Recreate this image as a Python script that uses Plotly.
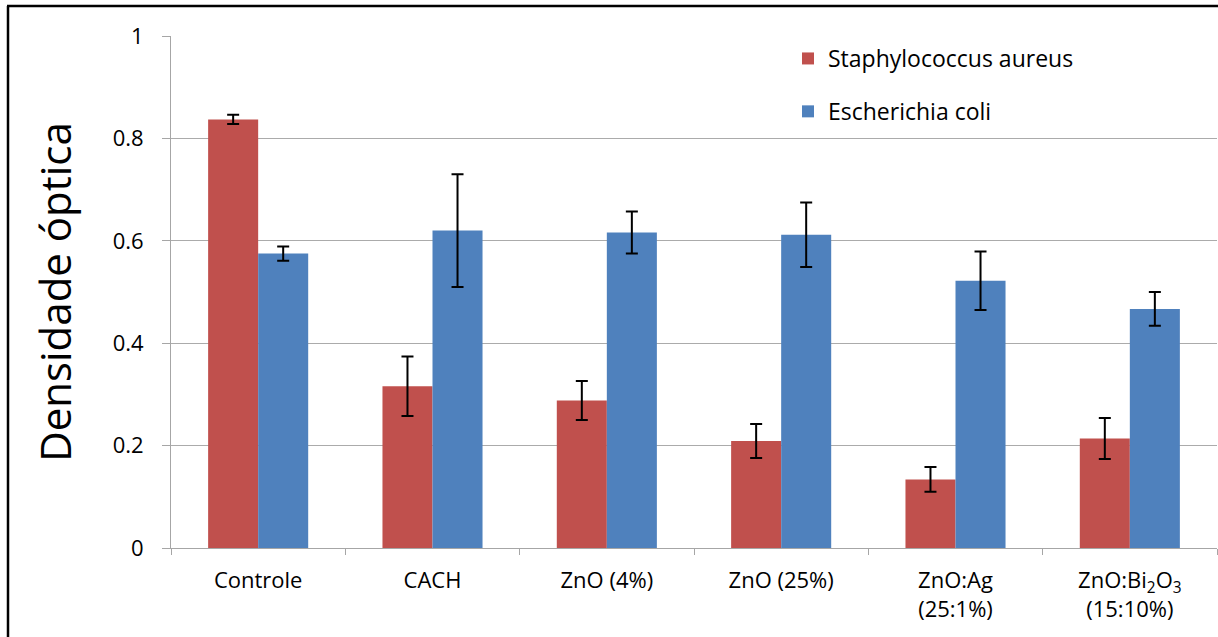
import plotly.graph_objects as go

categories = ["Controle", "CACH", "ZnO (4%)", "ZnO (25%)",
              "ZnO:Ag<br>(25:1%)", "ZnO:Bi<sub>2</sub>O<sub>3</sub><br>(15:10%)"]
staph = [0.837, 0.316, 0.288, 0.209, 0.134, 0.214]
staph_err = [0.009, 0.058, 0.038, 0.033, 0.024, 0.040]
ecoli = [0.575, 0.620, 0.616, 0.612, 0.522, 0.467]
ecoli_err = [0.014, 0.110, 0.041, 0.063, 0.057, 0.033]
y_ticks = [0, 0.2, 0.4, 0.6, 0.8, 1]

FONT = "Open Sans"
W, H = 1218, 637
L, R, T, B = 171, 1, 36, 89

fig = go.Figure()
fig.add_trace(go.Bar(
    x=categories, y=staph, name="Staphylococcus aureus",
    marker=dict(color="#C0504D", line=dict(width=0)),
    error_y=dict(type="data", array=staph_err, color="black", thickness=2, width=6),
    legendgroup="a",
))
fig.add_trace(go.Bar(
    x=categories, y=ecoli, name="Escherichia coli",
    marker=dict(color="#4F81BD", line=dict(width=0)),
    error_y=dict(type="data", array=ecoli_err, color="black", thickness=2, width=6),
    legendgroup="b",
))

pw = W - L - R
ph = H - T - B
def px_x(p):
    return (p - L) / pw
def px_y(p):
    return (H - B - p) / ph

fig.update_layout(
    width=W, height=H,
    margin=dict(l=L, r=R, t=T, b=B, pad=0),
    paper_bgcolor="white", plot_bgcolor="white",
    barmode="group", bargap=0.426, bargroupgap=0,
    font=dict(family=FONT, size=22, color="#000000"),
    showlegend=True,
    legend=dict(
        x=px_x(788), y=px_y(37), xanchor="left", yanchor="top",
        bgcolor="rgba(0,0,0,0)", font=dict(family=FONT, size=23),
        tracegroupgap=20, itemwidth=30,
    ),
    xaxis=dict(
        type="category", showline=True, linecolor="#A6A6A6", linewidth=1,
        ticks="outside", tickson="boundaries", ticklen=6, tickcolor="#A6A6A6",
        tickfont=dict(family=FONT, size=22), ticklabelstandoff=13,
        showgrid=False,
    ),
    yaxis=dict(
        range=[0, 1], tickvals=y_ticks, ticktext=[("%g" % v) for v in y_ticks],
        showline=True, linecolor="#A6A6A6", linewidth=1,
        ticks="outside", ticklen=8, tickcolor="#A6A6A6",
        showgrid=True, gridcolor="#ABABAB", gridwidth=1,
        tickfont=dict(family=FONT, size=22), ticklabelstandoff=14,
        zeroline=False,
        title=dict(text="Densidade óptica", font=dict(family=FONT, size=42), standoff=27),
    ),
    shapes=[
        dict(type="line", xref="paper", yref="paper",
             x0=px_x(8), x1=px_x(8), y0=px_y(6), y1=px_y(700),
             line=dict(color="black", width=2.5)),
        dict(type="line", xref="paper", yref="paper",
             x0=px_x(7), x1=px_x(1240), y0=px_y(6), y1=px_y(6),
             line=dict(color="black", width=2.5)),
    ],
)

fig.write_html("out.html")
